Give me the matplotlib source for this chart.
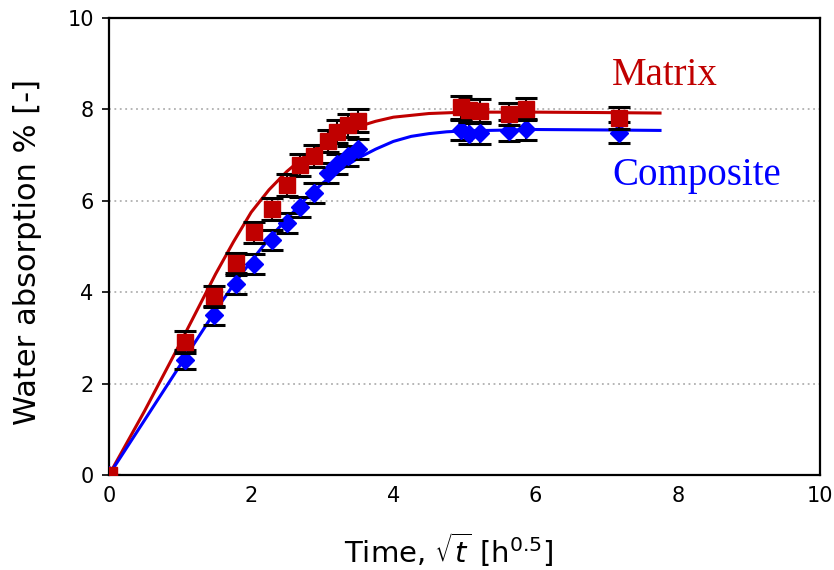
import numpy as np
import matplotlib
matplotlib.use('Agg')
import matplotlib.pyplot as plt

# measured points (sqrt of time, h^0.5)
sqrt_t = [0, 1.07, 1.47, 1.78, 2.04, 2.29, 2.50, 2.68, 2.88, 3.08, 3.21, 3.36, 3.50,
          4.95, 5.07, 5.22, 5.62, 5.86, 7.17]
matrix = [0, 2.90, 3.91, 4.64, 5.31, 5.83, 6.34, 6.78, 6.98, 7.31, 7.51, 7.65, 7.75,
          8.05, 7.98, 7.97, 7.89, 8.01, 7.82]
matrix_err = [0, 0.24, 0.23, 0.22, 0.23, 0.24, 0.24, 0.24, 0.25, 0.25, 0.25, 0.25, 0.25,
              0.25, 0.25, 0.25, 0.24, 0.24, 0.24]
composite = [0, 2.52, 3.49, 4.17, 4.61, 5.14, 5.52, 5.87, 6.18, 6.60, 6.80, 6.98, 7.13,
             7.55, 7.47, 7.48, 7.53, 7.57, 7.49]
composite_err = [0, 0.21, 0.21, 0.21, 0.22, 0.22, 0.22, 0.22, 0.22, 0.22, 0.22, 0.22, 0.22,
                 0.22, 0.23, 0.23, 0.23, 0.23, 0.23]

# fitted curves
fit_x_m = [0, 0.5, 1.0, 1.5, 1.75, 2.0, 2.25, 2.5, 2.75, 3.0, 3.25, 3.5, 3.75, 4.0,
           4.5, 5.0, 6.0, 7.0, 7.75]
fit_m = [0, 1.40, 2.88, 4.40, 5.10, 5.75, 6.24, 6.64, 6.97, 7.24, 7.45, 7.62, 7.74, 7.83,
         7.91, 7.94, 7.94, 7.93, 7.92]
fit_x_c = [0, 0.5, 1.0, 1.5, 1.75, 2.0, 2.25, 2.5, 2.75, 3.0, 3.25, 3.5, 3.75, 4.0,
           4.25, 4.5, 4.75, 5.0, 6.0, 7.0, 7.75]
fit_c = [0, 1.20, 2.40, 3.60, 4.16, 4.68, 5.17, 5.60, 6.02, 6.38, 6.68, 6.93, 7.13, 7.30,
         7.41, 7.47, 7.51, 7.53, 7.56, 7.55, 7.54]

red = '#C00000'
blue = '#0000FF'

fig = plt.figure(figsize=(8.34, 5.70), dpi=100)
ax = fig.add_axes([0.1307, 0.1667, 0.8525, 0.8017])

ax.plot(fit_x_m, fit_m, color=red, lw=2.2, zorder=2)
ax.plot(fit_x_c, fit_c, color=blue, lw=2.2, zorder=2)

ax.errorbar(sqrt_t, composite, yerr=composite_err, fmt='D', color=blue, ms=9.5,
            ecolor='black', elinewidth=1.5, capsize=8, capthick=2.2, zorder=3)
ax.errorbar(sqrt_t, matrix, yerr=matrix_err, fmt='s', color=red, ms=12,
            ecolor='black', elinewidth=1.5, capsize=8, capthick=2.2, zorder=4)

ax.text(0.782, 0.875, 'Matrix', color=red, fontsize=28, family='Liberation Serif',
        transform=ax.transAxes, ha='center', va='center')
ax.text(0.827, 0.656, 'Composite', color=blue, fontsize=28, family='Liberation Serif',
        transform=ax.transAxes, ha='center', va='center')

ax.set_xlim(0, 10)
ax.set_ylim(0, 10)
ax.set_xticks([0, 2, 4, 6, 8, 10])
ax.set_yticks([0, 2, 4, 6, 8, 10])
ax.tick_params(axis='x', length=0, labelsize=15, pad=8)
ax.tick_params(axis='y', length=5, width=1.2, labelsize=15, pad=6)
for g in [2, 4, 6, 8]:
    ax.axhline(g, color='#b0b0b0', lw=1.3, ls=(0, (1, 2)), zorder=1)
for s in ax.spines.values():
    s.set_linewidth(1.6)
    s.set_color('black')

ax.set_xlabel(r'Time, $\sqrt{t}$ [h$^{0.5}$]', fontsize=21)
ax.set_ylabel('Water absorption % [-]', fontsize=22)
ax.xaxis.set_label_coords(0.4775, -0.12)
ax.yaxis.set_label_coords(-0.094, 0.489)

fig.savefig('out.png', dpi=100)
